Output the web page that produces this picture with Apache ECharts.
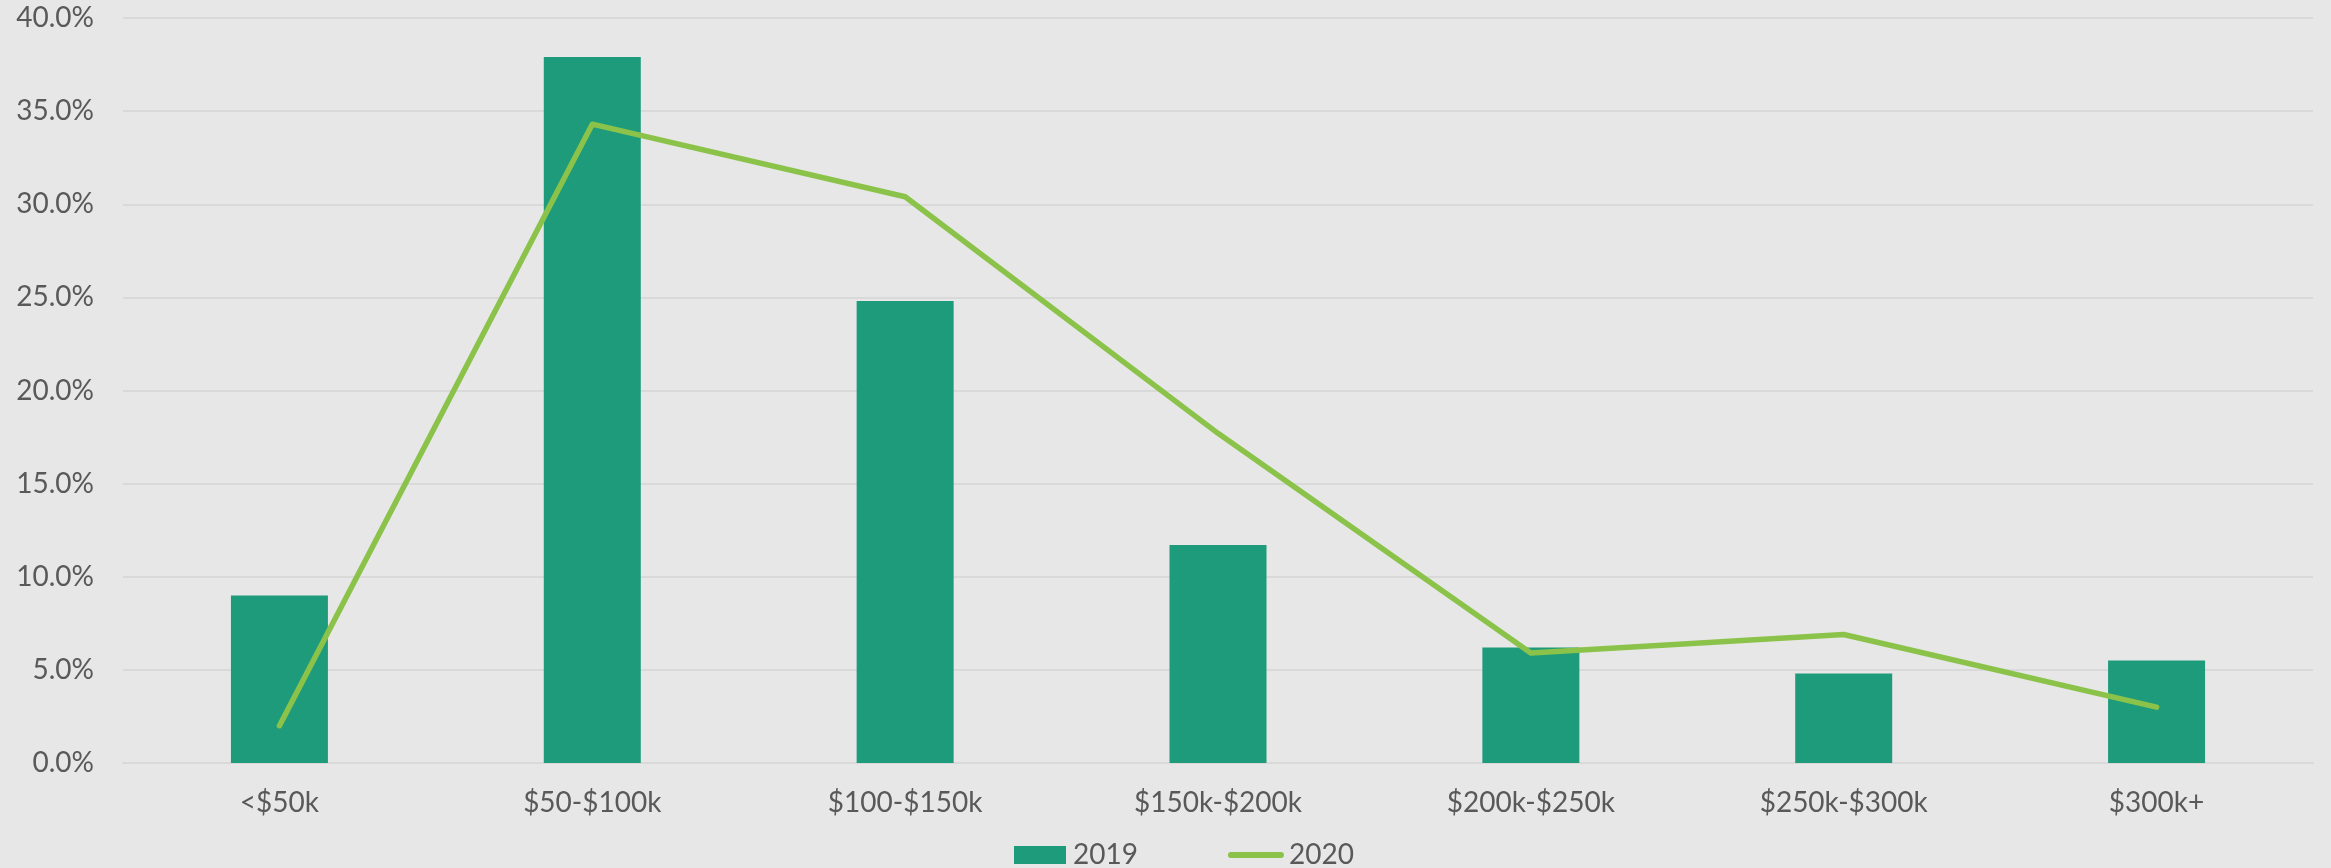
<!DOCTYPE html>
<html>
<head>
<meta charset="utf-8">
<script src="https://cdn.jsdelivr.net/npm/echarts@6/dist/echarts.min.js"></script>
<style>
	html, body { margin: 0; padding: 0; background: #e7e7e7; }
	#chart { width: 2331px; height: 868px; }
</style>
</head>
<body>
<div id="chart"></div>
<script>
// 收入区间
const categories = ['<$50k', '$50-$100k', '$100-$150k', '$150k-$200k', '$200k-$250k', '$250k-$300k', '$300k+']
// 2019 柱状 (%)
const values2019 = [9.0, 37.9, 24.8, 11.7, 6.2, 4.8, 5.5]
// 2020 折线 (%)
const values2020 = [2.0, 34.3, 30.4, 17.7, 5.9, 6.9, 3.0]

const textColor = '#595959'
const fontFamily = 'Lato, "Open Sans", sans-serif'

let chart = echarts.init(document.getElementById('chart'))
let option = {
	backgroundColor: '#e7e7e7',
	animation: false,
	textStyle: { fontFamily: fontFamily },
	grid: {
		left: 123,
		right: 18,
		top: 18,
		bottom: 105
	},
	legend: {
		left: 1009,
		top: 836,
		itemGap: 90,
		itemWidth: 56,
		itemHeight: 18,
		symbolKeepAspect: true,
		textStyle: { color: textColor, fontSize: 28, fontFamily: fontFamily },
		data: [
			{ name: '2019', icon: 'path://M0,0 L52,0 L52,18 L0,18 Z' },
			{ name: '2020', icon: 'path://M3,0 L53,0 A3,3 0 0 1 53,6 L3,6 A3,3 0 0 1 3,0 Z' }
		]
	},
	xAxis: {
		type: 'category',
		data: categories,
		axisTick: { show: false },
		axisLine: { lineStyle: { color: '#d9d9d9', width: 2 } },
		axisLabel: { color: textColor, fontSize: 28, margin: 26 }
	},
	yAxis: {
		type: 'value',
		min: 0,
		max: 40,
		interval: 5,
		axisLine: { show: false },
		axisTick: { show: false },
		splitLine: { lineStyle: { color: '#d9d9d9', width: 2 } },
		axisLabel: {
			color: textColor,
			fontSize: 28,
			margin: 29,
			formatter: v => v.toFixed(1) + '%'
		}
	},
	series: [
		{
			name: '2019',
			type: 'bar',
			data: values2019,
			barWidth: 97,
			itemStyle: { color: '#1e9b7b' }
		},
		{
			name: '2020',
			type: 'line',
			data: values2020,
			symbol: 'none',
			z: 5,
			lineStyle: { color: '#8bc34a', width: 5.5, cap: 'round', join: 'round' },
			itemStyle: { color: '#8bc34a' }
		}
	]
}
chart.setOption(option)
</script>
</body>
</html>
